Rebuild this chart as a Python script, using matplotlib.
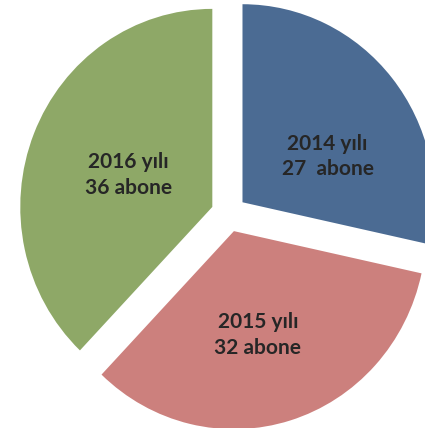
import numpy as np
import matplotlib
matplotlib.use('Agg')
import matplotlib.pyplot as plt

years = ['2014', '2015', '2016']
subscribers = [27, 32, 36]
count_text = ['27  abone', '32 abone', '36 abone']
colors = ['#4B6B93', '#CC807D', '#8EA867']

# label placement per wedge: (distance from wedge tip, angle tweak in degrees)
label_place = [(0.50, -11.2), (0.54, -3.7), (0.467, 1.5)]

fig = plt.figure(figsize=(4.25, 4.28), dpi=100)
ax = fig.add_axes([0, 0, 1, 1])

wedges, _ = ax.pie(subscribers, colors=colors, startangle=90, counterclock=False,
                   explode=[0.092] * 3, radius=1.0,
                   wedgeprops=dict(linewidth=0))

for w, yr, txt, (dist, dth) in zip(wedges, years, count_text, label_place):
    mid = np.deg2rad((w.theta1 + w.theta2) / 2)
    cx, cy = w.center
    ang = mid + np.deg2rad(dth)
    ax.text(cx + dist * np.cos(ang), cy + dist * np.sin(ang),
            f'{yr} yılı\n{txt}', ha='center', va='center',
            fontsize=15, fontweight='bold', family=['Lato', 'DejaVu Sans'],
            color='#262626', linespacing=1.35)

ax.set_aspect('auto')
ax.set_xlim(-1.191, 1.022)
ax.set_ylim(-1.082, 1.079)
ax.axis('off')

fig.savefig('out.png', dpi=100, facecolor='white')
